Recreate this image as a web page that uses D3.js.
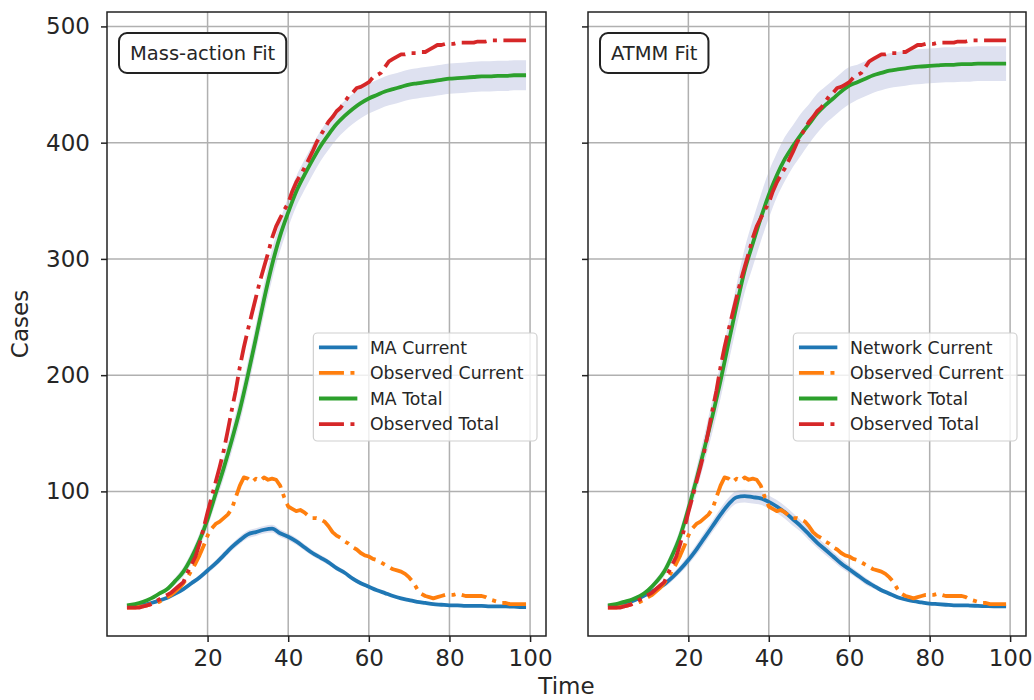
<!DOCTYPE html>
<html>
<head>
<meta charset="utf-8">
<script src="https://cdn.jsdelivr.net/npm/d3@7"></script>
<style>
body { margin: 0; background: #fff; }
text { font-family: "DejaVu Sans", sans-serif; fill: #262626; }
</style>
</head>
<body>
<svg class="rend_fig"></svg>
<script>
/////////////// data ////////////////
// observed series, one value per time step (t = 0..99)
const OBS_T = d3.range(0, 100);
const OBS_TOTAL = [
    0, 0, 0, 0, 1, 2, 3, 5, 7, 9,
    11, 13, 16, 19, 22, 30, 37, 44, 55, 68,
    82, 95, 108, 121, 135, 152, 170, 187, 207, 224,
    239, 253, 267, 281, 293, 305, 318, 328, 335, 342,
    348, 358, 366, 372, 378, 385, 392, 400, 406, 412,
    418, 422, 427, 430, 435, 440, 443, 447, 448, 450,
    452, 456, 458, 460, 465, 470, 472, 474, 476, 476,
    477, 477, 477, 478, 478, 480, 482, 484, 484, 485,
    485, 485, 486, 486, 486, 486, 486, 487, 487, 487,
    488, 488, 488, 488, 488, 488, 488, 488, 488, 488];
const OBS_CURRENT = [
    0, 0, 0, 1, 1, 2, 3, 4, 5, 7,
    9, 11, 14, 17, 21, 26, 32, 38, 45, 53,
    62, 68, 72, 74, 77, 80, 85, 95, 105, 112,
    111, 108, 111, 109, 112, 110, 111, 110, 105, 95,
    87, 85, 83, 84, 82, 79, 77, 77, 76, 74,
    70, 65, 62, 60, 57, 55, 52, 50, 47, 45,
    44, 42, 41, 39, 37, 35, 33, 32, 31, 29,
    26, 22, 16, 12, 10, 9, 8, 9, 10, 11,
    11, 11, 12, 11, 10, 10, 10, 10, 10, 9,
    7, 6, 5, 4, 4, 3, 3, 3, 3, 3];
// model means and band half widths, sampled every 2 steps
const MODEL_T = [
    0, 2, 4, 6, 8, 10, 12, 14, 16, 18,
    20, 22, 24, 26, 28, 30, 32, 34, 36, 38,
    40, 42, 44, 46, 48, 50, 52, 54, 56, 58,
    60, 62, 64, 66, 68, 70, 72, 74, 76, 78,
    80, 82, 84, 86, 88, 90, 92, 94, 96, 98,
    99];
const MA_TOTAL = [
    2, 3, 5, 8, 12, 16, 23, 31, 43, 58,
    76, 98, 120, 144, 170, 200, 232, 265, 295, 320,
    340, 358, 372, 385, 397, 407, 416, 423, 429, 434,
    438, 441, 444, 446, 448, 450, 451, 452, 453, 454,
    455, 455.5, 456, 456.5, 457, 457, 457.5, 457.5, 458, 458,
    458];
const MA_TOTAL_SPREAD = [
    0, 0.3, 0.5, 1, 1.5, 2, 3, 4, 5, 6,
    7, 8, 9, 10, 11, 12, 12, 13, 13, 13,
    13, 13, 13, 13, 13, 13, 13, 13, 13, 13,
    13, 13, 13, 13, 13, 13, 13, 13, 13, 13,
    13, 13, 13, 13, 13, 13, 13, 13, 13, 13,
    13];
const MA_CURRENT = [
    1, 1.5, 2.5, 4, 6, 8.5, 12, 16, 21, 26,
    32, 38, 45, 52, 58, 63, 65, 67, 68, 64,
    61, 57, 52, 47, 43, 39, 34, 30, 25, 21,
    18, 15, 12.5, 10, 8, 6.5, 5, 4, 3, 2.5,
    2, 2, 1.5, 1.5, 1.5, 1, 1, 1, 0.8, 0.5,
    0.5];
const MA_CURRENT_SPREAD = [
    0, 0.2, 0.4, 0.6, 0.8, 1, 1.3, 1.6, 2, 2.3,
    2.6, 2.8, 3, 3, 3.2, 3.3, 3.3, 3.3, 3.3, 3.2,
    3, 3, 2.8, 2.6, 2.5, 2.3, 2.2, 2, 1.8, 1.6,
    1.4, 1.2, 1, 0.9, 0.8, 0.7, 0.6, 0.5, 0.4, 0.4,
    0.3, 0.3, 0.3, 0.2, 0.2, 0.2, 0.2, 0.2, 0.2, 0.2,
    0.2];
const NET_TOTAL = [
    2, 3, 5, 7, 10, 15, 22, 31, 45, 62,
    85, 110, 137, 165, 195, 228, 260, 290, 313, 335,
    355, 372, 386, 397, 407, 416, 425, 432, 438, 444,
    449, 452, 455, 458, 460, 462, 463, 464, 465, 465.5,
    466, 466.5, 467, 467, 467.5, 467.5, 468, 468, 468, 468,
    468];
const NET_TOTAL_SPREAD = [
    0, 0.3, 0.6, 1, 1.5, 2, 3, 4, 5, 6.5,
    8, 10, 12, 14, 15, 17, 18, 19, 20, 20,
    20, 19, 19, 18, 18, 17, 17, 16, 16, 16,
    16, 15, 15, 15, 15, 15, 15, 15, 15, 15,
    15, 15, 15, 15, 15, 15, 15, 15, 15, 15,
    15];
const NET_CURRENT = [
    1, 2, 3.5, 5.5, 8.5, 12, 16, 20, 26, 33,
    41, 50, 60, 70, 80, 89, 95, 96, 95, 94,
    91, 87, 82, 76, 70, 63, 56, 50, 44, 38,
    33, 28, 23, 19, 15, 12, 9, 7, 5.5, 4.5,
    3.5, 3, 2.5, 2, 2, 1.8, 1.5, 1.3, 1.2, 1,
    1];
const NET_CURRENT_SPREAD = [
    0, 0.3, 0.6, 1, 1.3, 1.6, 2, 2.5, 3, 3.5,
    4, 4.5, 5, 5, 5.5, 5.5, 5.5, 5.5, 5.5, 5.5,
    5.5, 5.5, 5.5, 5.5, 5, 5, 4.5, 4.5, 4, 4,
    3.5, 3, 3, 2.5, 2, 2, 1.5, 1.2, 1, 0.8,
    0.6, 0.5, 0.5, 0.4, 0.4, 0.3, 0.3, 0.3, 0.3, 0.3,
    0.3];
const X_TICKS = [20, 40, 60, 80, 100];
const Y_TICKS = [100, 200, 300, 400, 500];
const PANEL_TITLES = ["Mass-action Fit", "ATMM Fit"];
const LEGEND_NAMES = [
    ["MA Current", "Observed Current", "MA Total", "Observed Total"],
    ["Network Current", "Observed Current", "Network Total", "Observed Total"]];

/////////////// layout ////////////////
const FIG_W = 1034;
const FIG_H = 700;
const AX_TOP = 12;
const AX_BOTTOM = 636;
const PANEL_X = [[107, 546], [588, 1026]];
const X_DOMAIN = [-4.95, 103.95];
const Y_DOMAIN = [-24.4, 512.4];
const C_BLUE = "#1f77b4";
const C_ORANGE = "#ff7f0e";
const C_GREEN = "#2ca02c";
const C_RED = "#d62728";
const BAND_FILL = "#dee1f0";
const LN_W = 3.8;
const DASH_DOT = "25,6.5,4,6.5";
const TICK_FS = 23;
const LEG_FS = 17.3;

const FIG_SVG = d3.select(".rend_fig")
    .attr("width", FIG_W)
    .attr("height", FIG_H);
const SCL_Y = d3.scaleLinear()
    .domain(Y_DOMAIN)
    .range([AX_BOTTOM, AX_TOP]);

// build panel specs from the arrays
const PANELS = [
    { total: MA_TOTAL, totalSd: MA_TOTAL_SPREAD, current: MA_CURRENT, currentSd: MA_CURRENT_SPREAD },
    { total: NET_TOTAL, totalSd: NET_TOTAL_SPREAD, current: NET_CURRENT, currentSd: NET_CURRENT_SPREAD }];

function toPts(ts, vs, sd) {
    return ts.map((t, i) => ({ t: t, v: vs[i], sd: sd ? sd[i] : 0 }));
}

/////////////// panels ////////////////
PANELS.forEach((p, k) => {
    const [x0, x1] = PANEL_X[k];
    const SCL_X = d3.scaleLinear().domain(X_DOMAIN).range([x0, x1]);
    const grp = FIG_SVG.append("g").attr("id", `panel${k}`);
    const band = d3.area()
        .x(d => SCL_X(d.t))
        .y0(d => SCL_Y(d.v - d.sd))
        .y1(d => SCL_Y(d.v + d.sd))
        .curve(d3.curveMonotoneX);
    const smooth = d3.line()
        .x(d => SCL_X(d.t))
        .y(d => SCL_Y(d.v))
        .curve(d3.curveMonotoneX);
    const raw = d3.line()
        .x(d => SCL_X(d.t))
        .y(d => SCL_Y(d.v));
    const curPts = toPts(MODEL_T, p.current, p.currentSd);
    const totPts = toPts(MODEL_T, p.total, p.totalSd);

    // bands
    grp.append("path").attr("d", band(totPts)).attr("fill", BAND_FILL);
    grp.append("path").attr("d", band(curPts)).attr("fill", BAND_FILL);

    // grid
    grp.append("g")
        .selectAll("line")
        .data(X_TICKS)
        .enter()
        .append("line")
        .attr("x1", d => SCL_X(d)).attr("x2", d => SCL_X(d))
        .attr("y1", AX_TOP).attr("y2", AX_BOTTOM)
        .attr("stroke", "#b0b0b0").attr("stroke-width", 1.5);
    grp.append("g")
        .selectAll("line")
        .data(Y_TICKS)
        .enter()
        .append("line")
        .attr("x1", x0).attr("x2", x1)
        .attr("y1", d => SCL_Y(d)).attr("y2", d => SCL_Y(d))
        .attr("stroke", "#b0b0b0").attr("stroke-width", 1.5);

    // lines
    const series = [
        { pts: curPts, gen: smooth, color: C_BLUE, dash: null },
        { pts: toPts(OBS_T, OBS_CURRENT), gen: raw, color: C_ORANGE, dash: DASH_DOT },
        { pts: totPts, gen: smooth, color: C_GREEN, dash: null },
        { pts: toPts(OBS_T, OBS_TOTAL), gen: raw, color: C_RED, dash: DASH_DOT }];
    series.forEach(s => {
        grp.append("path")
            .attr("d", s.gen(s.pts))
            .attr("fill", "none")
            .attr("stroke", s.color)
            .attr("stroke-width", LN_W)
            .attr("stroke-linejoin", "round")
            .attr("stroke-dasharray", s.dash);
    });

    // axes
    const xAxis = grp.append("g")
        .attr("transform", `translate(0, ${AX_BOTTOM})`)
        .call(d3.axisBottom(SCL_X).tickValues(X_TICKS).tickSize(6).tickPadding(8));
    const yAxis = grp.append("g")
        .attr("transform", `translate(${x0}, 0)`)
        .call(d3.axisLeft(SCL_Y).tickValues(Y_TICKS).tickSize(6).tickPadding(11)
            .tickFormat(k == 0 ? d3.format("d") : ""));
    [xAxis, yAxis].forEach(a => {
        a.select(".domain").remove();
        a.selectAll("line").attr("stroke", "#222").attr("stroke-width", 1.5);
        a.selectAll("text").attr("font-size", TICK_FS).attr("fill", "#262626")
            .attr("font-family", "DejaVu Sans");
    });
    grp.append("rect")
        .attr("x", x0).attr("y", AX_TOP)
        .attr("width", x1 - x0).attr("height", AX_BOTTOM - AX_TOP)
        .attr("fill", "none").attr("stroke", "#222").attr("stroke-width", 1.5);

    // title box
    const titleBox = grp.append("rect");
    const tt = grp.append("text")
        .attr("x", x0 + 23).attr("y", 53)
        .attr("dy", "0.36em")
        .attr("font-size", 19.5)
        .text(PANEL_TITLES[k]);
    const tw = tt.node().getComputedTextLength();
    titleBox
        .attr("x", x0 + 12).attr("y", 33)
        .attr("width", tw + 22).attr("height", 40)
        .attr("rx", 8)
        .attr("fill", "white").attr("stroke", "#222").attr("stroke-width", 2);

    // legend
    const leg = grp.append("g");
    const legBox = leg.append("rect");
    const legTxt = [];
    series.forEach((s, i) => {
        const y = 347.3 + i * 25.6;
        leg.append("line")
            .attr("x1", 0).attr("x2", 38.4)
            .attr("y1", y).attr("y2", y)
            .attr("stroke", s.color)
            .attr("stroke-width", LN_W)
            .attr("stroke-dasharray", s.dash);
        legTxt.push(leg.append("text")
            .attr("x", 51).attr("y", y)
            .attr("dy", "0.36em")
            .attr("font-size", LEG_FS)
            .text(LEGEND_NAMES[k][i]));
    });
    const legW = 5.6 + 51 + d3.max(legTxt, t => t.node().getComputedTextLength()) + 13.5;
    const legX = x1 - 9 - legW;
    legBox
        .attr("x", -5.6).attr("y", 333)
        .attr("width", legW).attr("height", 108)
        .attr("rx", 4)
        .attr("fill", "white").attr("fill-opacity", 0.8)
        .attr("stroke", "#d0d0d0").attr("stroke-width", 1.2);
    leg.attr("transform", `translate(${legX + 5.6}, 0)`);
});

/////////////// labels ////////////////
FIG_SVG.append("text")
    .attr("x", (PANEL_X[0][0] + PANEL_X[1][1]) / 2)
    .attr("y", 694)
    .attr("text-anchor", "middle")
    .attr("font-size", TICK_FS)
    .text("Time");
FIG_SVG.append("text")
    .attr("transform", `translate(28, ${(AX_TOP + AX_BOTTOM) / 2}) rotate(-90)`)
    .attr("text-anchor", "middle")
    .attr("font-size", TICK_FS)
    .text("Cases");
</script>
</body>
</html>
